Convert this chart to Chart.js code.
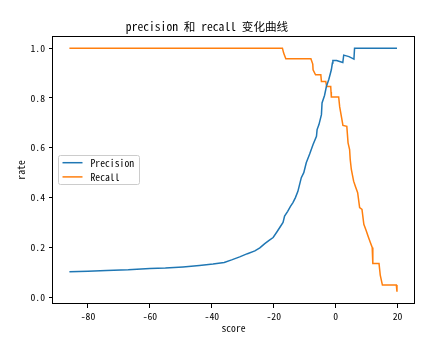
<!DOCTYPE html>
<html>
<head>
<meta charset="utf-8">
<script src="https://cdn.jsdelivr.net/npm/chart.js@4.4.1/dist/chart.umd.min.js"></script>
<style>
  html, body { margin: 0; padding: 0; background: #ffffff; }
  #c { display: block; }
</style>
</head>
<body>
<canvas id="c" width="445" height="341"></canvas>
<script>
// ---- data ----
const titleText = "precision 和 recall 变化曲线";
const xLabel = "score";
const yLabel = "rate";
const seriesNames = ["Precision", "Recall"];

const precisionX = [-86, -80, -74, -67, -60, -55, -49.3, -44, -39.6, -36, -33.6, -31, -28.5, -26.1, -24.5, -22.9, -21.5, -20.2, -19, -17.8, -17, -16.5, -15.5, -14.6, -13.8, -13, -12.2, -11.1, -10.3, -9.5, -8.4, -7.3, -6.2, -6.0, -5.4, -4.6, -4.4, -3.6, -3.0, -2.2, -1.4, -1.06, -0.9, 0.3, 1.3, 2.3, 2.6, 4.3, 5.9, 6.1, 19.8];
const precisionY = [0.102, 0.104, 0.107, 0.110, 0.115, 0.117, 0.122, 0.128, 0.134, 0.140, 0.150, 0.162, 0.175, 0.186, 0.198, 0.215, 0.228, 0.240, 0.262, 0.285, 0.300, 0.326, 0.345, 0.365, 0.380, 0.400, 0.425, 0.480, 0.500, 0.540, 0.575, 0.613, 0.646, 0.673, 0.693, 0.733, 0.780, 0.810, 0.846, 0.875, 0.913, 0.940, 0.950, 0.950, 0.946, 0.942, 0.972, 0.966, 0.956, 1.000, 1.000];

const recallX = [-86, -17.2, -16.8, -16.1, -8.0, -7.4, -7.3, -6.5, -4.8, -4.6, -3.2, -2.9, -1.6, -1.5, -1.4, 0.97, 1.3, 2.35, 3.6, 4.0, 4.5, 4.7, 5.06, 5.8, 6.35, 7.1, 7.74, 8.5, 9.1, 9.9, 10.5, 11.2, 11.8, 12.0, 14.0, 14.4, 15.1, 19.6, 19.8];
const recallY = [1.0, 1.0, 0.98, 0.957, 0.957, 0.936, 0.913, 0.893, 0.893, 0.866, 0.866, 0.846, 0.846, 0.824, 0.804, 0.804, 0.764, 0.69, 0.686, 0.62, 0.593, 0.553, 0.513, 0.466, 0.446, 0.42, 0.36, 0.353, 0.293, 0.266, 0.244, 0.22, 0.2, 0.136, 0.136, 0.089, 0.049, 0.049, 0.022];

const xTicks = [-80, -60, -40, -20, 0, 20];
const yTicks = [0.0, 0.2, 0.4, 0.6, 0.8, 1.0];

// ---- chart ----
const FONT = "'Noto Sans Mono CJK SC', 'DejaVu Sans Mono', 'Noto Sans CJK SC', monospace";
const colors = ['#1f77b4', '#ff7f0e'];

function pts(xs, ys) { return xs.map((x, i) => ({ x: x, y: ys[i] })); }

const framePlugin = {
  id: 'frame',
  afterDraw(chart) {
    const a = chart.chartArea, ctx = chart.ctx;
    ctx.save();
    ctx.strokeStyle = '#000';
    ctx.lineWidth = 1;
    ctx.strokeRect(Math.round(a.left) - 0.5, Math.round(a.top) + 0.5,
                   Math.round(a.right - a.left) + 1, Math.round(a.bottom - a.top) - 1);
    // legend
    const lx = 58.5, ly = 155.5, lw = 81, lh = 29, r = 2;
    ctx.beginPath();
    ctx.moveTo(lx + r, ly);
    ctx.lineTo(lx + lw - r, ly); ctx.arcTo(lx + lw, ly, lx + lw, ly + r, r);
    ctx.lineTo(lx + lw, ly + lh - r); ctx.arcTo(lx + lw, ly + lh, lx + lw - r, ly + lh, r);
    ctx.lineTo(lx + r, ly + lh); ctx.arcTo(lx, ly + lh, lx, ly + lh - r, r);
    ctx.lineTo(lx, ly + r); ctx.arcTo(lx, ly, lx + r, ly, r);
    ctx.closePath();
    ctx.fillStyle = 'rgba(255,255,255,0.8)';
    ctx.fill();
    ctx.strokeStyle = '#cccccc';
    ctx.stroke();
    chart.data.datasets.forEach((ds, i) => {
      const y = 162.7 + i * 14.2;
      ctx.beginPath();
      ctx.moveTo(62.5, y); ctx.lineTo(82.5, y);
      ctx.strokeStyle = ds.borderColor; ctx.lineWidth = 1.5; ctx.stroke();
      ctx.fillStyle = '#000';
      ctx.font = "9.7px " + FONT;
      ctx.textBaseline = 'middle';
      ctx.textAlign = 'left';
      ctx.fillText(ds.label, 90.5, y + 0.5);
    });
    ctx.restore();
  }
};

new Chart(document.getElementById('c'), {
  type: 'line',
  data: {
    datasets: [
      { label: seriesNames[0], data: pts(precisionX, precisionY), borderColor: colors[0], backgroundColor: colors[0], borderWidth: 1.5, pointRadius: 0, tension: 0, fill: false },
      { label: seriesNames[1], data: pts(recallX, recallY), borderColor: colors[1], backgroundColor: colors[1], borderWidth: 1.5, pointRadius: 0, tension: 0, fill: false }
    ]
  },
  options: {
    responsive: false,
    animation: false,
    devicePixelRatio: 1,
    layout: { padding: { left: 0, right: 31, top: 0, bottom: 0 } },
    plugins: {
      legend: { display: false },
      tooltip: { enabled: false },
      title: {
        display: true, text: titleText, color: '#000',
        font: { family: FONT, size: 11.6, weight: 'normal', lineHeight: 1.2 },
        padding: { top: 20, bottom: 2 }
      }
    },
    scales: {
      x: {
        type: 'linear', min: -91.3, max: 25.3,
        afterBuildTicks: (s) => { s.ticks = xTicks.map(v => ({ value: v })); },
        afterFit: (s) => { s.height = 37; },
        ticks: { color: '#000', font: { family: FONT, size: 9.7 }, padding: 3, maxRotation: 0, callback: (v) => String(v) },
        grid: { display: true, drawOnChartArea: false, drawTicks: true, tickLength: 4, color: '#000', lineWidth: 1 },
        border: { display: false },
        title: { display: true, text: xLabel, color: '#000', font: { family: FONT, size: 9.7, lineHeight: 1.2 }, padding: { top: 0, bottom: 7 } }
      },
      y: {
        type: 'linear', min: -0.027, max: 1.049,
        afterBuildTicks: (s) => { s.ticks = yTicks.map(v => ({ value: v })); },
        afterFit: (s) => { s.width = 53; },
        ticks: { color: '#000', font: { family: FONT, size: 9.7 }, padding: 4, callback: (v) => Number(v).toFixed(1) },
        grid: { display: true, drawOnChartArea: false, drawTicks: true, tickLength: 4, color: '#000', lineWidth: 1 },
        border: { display: false },
        title: { display: true, text: yLabel, color: '#000', font: { family: FONT, size: 9.7, lineHeight: 1.2 }, padding: { top: 16, bottom: 0 } }
      }
    }
  },
  plugins: [framePlugin]
});
</script>
</body>
</html>
